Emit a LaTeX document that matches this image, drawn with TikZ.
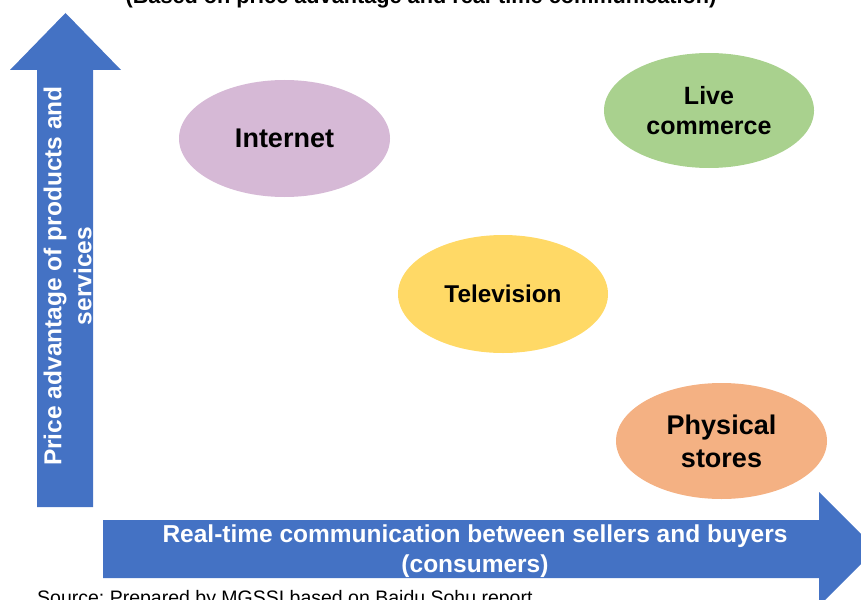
\documentclass[tikz,border=0pt]{standalone}
\usepackage{fontspec}
\setmainfont{Liberation Sans}
\frenchspacing
\usetikzlibrary{shapes.geometric}
\definecolor{axisblue}{HTML}{4472C4}
\definecolor{lilac}{HTML}{D6B9D6}
\definecolor{leaf}{HTML}{A9D18E}
\definecolor{sun}{HTML}{FFD966}
\definecolor{peach}{HTML}{F4B183}
\tikzset{
  axis/.style={fill=axisblue, draw=none},
  axislabel/.style={text=white, font=\bfseries\fontsize{24.5}{30}\selectfont, align=center, inner sep=0pt},
  channel/.style={ellipse, draw=none, inner sep=0pt, align=center, text=black},
}
\begin{document}
\begin{tikzpicture}[x=1pt, y=-1pt]
\useasboundingbox (0,0) rectangle (861,599);
\clip (0,0) rectangle (861,599);

% vertical axis arrow
\fill[axis] (37,507) -- (93,507) -- (93,70) -- (121,70) -- (65.5,13) -- (10,70) -- (37,70) -- cycle;
% horizontal axis arrow
\fill[axis] (103,520) -- (819,520) -- (819,492) -- (876,549) -- (819,606) -- (819,578) -- (103,578) -- cycle;

% axis labels
\node[axislabel, rotate=90] (ylabel) at (67.5,276) {Price advantage of products and\\services};
\node[axislabel] (xlabel) at (475,551) {Real-time communication between sellers and buyers\\(consumers)};

% title and source
\node[anchor=base, inner sep=0pt, font=\bfseries\fontsize{21.7}{26}\selectfont] (title) at (421,4) {(Based on price advantage and real-time communication)};
\node[anchor=base west, inner sep=0pt, font=\fontsize{19.5}{23}\selectfont] (source) at (37,604) {Source: Prepared by MGSSI based on Baidu Sohu report};

% sales channels
\node[channel, fill=lilac, minimum width=211pt, minimum height=117pt, font=\bfseries\fontsize{27}{32}\selectfont] (internet) at (284.5,138.5) {Internet};
\node[channel, fill=leaf, minimum width=210pt, minimum height=115pt, font=\bfseries\fontsize{25}{30}\selectfont] (live) at (709,110.5) {Live\\commerce};
\node[channel, fill=sun, minimum width=210pt, minimum height=118pt, font=\bfseries\fontsize{24.3}{29}\selectfont] (tv) at (503,294) {Television};
\node[channel, fill=peach, minimum width=211pt, minimum height=116pt, font=\bfseries\fontsize{27}{33}\selectfont] (stores) at (721.5,441) {Physical\\stores};
\end{tikzpicture}
\end{document}
